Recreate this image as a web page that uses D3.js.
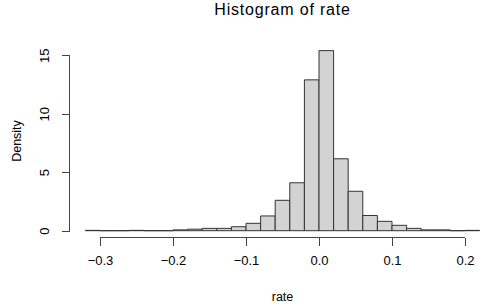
<!DOCTYPE html>
<meta charset="utf-8">
<style>
body { margin: 0; background: #fff; }
text { font-family: "Liberation Sans", Arial, sans-serif; fill: #000; }
.axis path, .axis line { stroke: #444; shape-rendering: crispEdges; }
.axis text { font-size: 13px; }
.bar { fill: #d3d3d3; stroke: #333; }
</style>
<div id="chart"></div>
<script src="https://d3js.org/d3.v7.min.js"></script>
<script>
var w = 482, h = 305;

// bin edges and density per bin
var binStart = [-0.32, -0.30, -0.28, -0.26, -0.24, -0.22, -0.20, -0.18, -0.16, -0.14,
                -0.12, -0.10, -0.08, -0.06, -0.04, -0.02, 0.00, 0.02, 0.04, 0.06,
                0.08, 0.10, 0.12, 0.14, 0.16, 0.18, 0.20];
var binEnd = [-0.30, -0.28, -0.26, -0.24, -0.22, -0.20, -0.18, -0.16, -0.14, -0.12,
              -0.10, -0.08, -0.06, -0.04, -0.02, 0.00, 0.02, 0.04, 0.06, 0.08,
              0.10, 0.12, 0.14, 0.16, 0.18, 0.20, 0.22];
var density = [0.03, 0, 0, 0.03, 0, 0, 0.07, 0.13, 0.2, 0.2,
               0.34, 0.63, 1.26, 2.6, 4.1, 12.9, 15.4, 6.15, 3.37, 1.3,
               0.8, 0.46, 0.2, 0.07, 0.07, 0, 0.03];
var xTicks = [-0.3, -0.2, -0.1, 0.0, 0.1, 0.2];
var yTicks = [0, 5, 10, 15];

var svg = d3.select("#chart").append("svg")
  .attr("width", w).attr("height", h);

var x = d3.scaleLinear().domain([-0.3, 0.2]).range([100, 465]),
    y = d3.scaleLinear().domain([0, 15]).range([230.7, 55.3]);

// bars as closed paths so empty bins still show a line, like R
svg.selectAll("path.bar")
  .data(density)
  .enter().append("path")
  .attr("class", "bar")
  .attr("d", function (d, i) {
    var x0 = x(binStart[i]), x1 = x(binEnd[i]);
    return "M" + x0 + "," + y(0) + "V" + y(d) + "H" + x1 + "V" + y(0) + "Z";
  });

// x axis
var xAxis = d3.axisBottom(x)
  .tickValues(xTicks)
  .tickSize(8)
  .tickPadding(10)
  .tickFormat(function (d) { return d3.format(".1f")(d).replace("-", "\u2212"); });

svg.append("g")
  .attr("class", "axis")
  .attr("transform", "translate(0,237.5)")
  .call(xAxis)
  .call(function (g) { g.select(".domain").attr("d", "M" + x(-0.3) + ",0H" + x(0.2)); });

// y axis, labels turned like R's las=0
var yAxis = d3.axisLeft(y)
  .tickValues(yTicks)
  .tickSize(8);

var gy = svg.append("g")
  .attr("class", "axis")
  .attr("transform", "translate(69.5,0)")
  .call(yAxis)
  .call(function (g) { g.select(".domain").attr("d", "M0," + y(0) + "V" + y(15)); });

gy.selectAll(".tick text")
  .attr("x", 0).attr("y", 0)
  .attr("dy", "0.35em")
  .attr("transform", "translate(-25,0) rotate(-90)")
  .style("text-anchor", "middle");

// titles
svg.append("text")
  .attr("x", 282.5).attr("y", 15)
  .attr("text-anchor", "middle")
  .style("font-size", "16px")
  .style("letter-spacing", "0.8px")
  .text("Histogram of rate");

svg.append("text")
  .attr("x", 282.5).attr("y", 301)
  .attr("text-anchor", "middle")
  .style("font-size", "12.5px")
  .text("rate");

svg.append("text")
  .attr("transform", "translate(21,141) rotate(-90)")
  .attr("text-anchor", "middle")
  .style("font-size", "12.5px")
  .text("Density");
</script>
